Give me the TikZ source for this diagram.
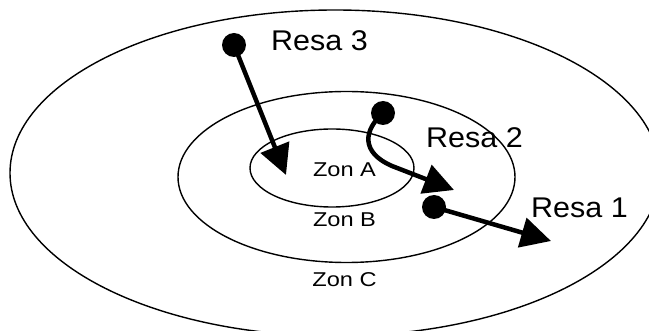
\documentclass[tikz,border=0pt]{standalone}
\usepackage{graphicx}
\usepackage{fontspec}
\setmainfont{Liberation Sans}
\usetikzlibrary{arrows.meta}
\begin{document}
\begin{tikzpicture}[x=1pt,y=-1pt,
  zone/.style={line width=1.4pt},
  dot/.style={circle,fill=black,inner sep=0pt,minimum size=24pt},
  arr/.style={line width=4.5pt,-{Triangle[length=30pt,width=30pt]}},
  zlabel/.style={inner sep=0pt,anchor=base,font=\fontsize{20}{24}\selectfont},
  rlabel/.style={inner sep=0pt,anchor=base west,font=\fontsize{28.5}{34}\selectfont}]
\useasboundingbox (0,0) rectangle (649,331);
\clip (0,0) rectangle (649,331);
% zones
\draw[zone] (335,173) ellipse [x radius=325, y radius=163];
\draw[zone] (346.5,177) ellipse [x radius=168.5, y radius=85.5];
\draw[zone] (332,168) ellipse [x radius=82, y radius=39];
% zone labels
\node[zlabel] (za) at (344.5,177) {\scalebox{1.18}[1]{Zon A}};
\node[zlabel] (zb) at (344.5,227) {\scalebox{1.18}[1]{Zon B}};
\node[zlabel] (zc) at (344.5,287) {\scalebox{1.18}[1]{Zon C}};
% journey labels
\node[rlabel] (r3) at (271,51) {\scalebox{1.07}[1]{Resa 3}};
\node[rlabel] (r2) at (426,148) {\scalebox{1.07}[1]{Resa 2}};
\node[rlabel] (r1) at (531,218) {\scalebox{1.07}[1]{Resa 1}};
% start dots
\node[dot] (d3) at (234,45) {};
\node[dot] (d2) at (383,113) {};
\node[dot] (d1) at (434,207) {};
% arrow ends
\coordinate (t3) at (286,175);
\coordinate (t2) at (454,190);
\coordinate (t1) at (551,241);
% journeys
\draw[arr] (d3.center) -- (t3);
\draw[arr] (d2.center) .. controls (364,130) and (360,152) .. (392,166) -- (t2);
\draw[arr] (d1.center) -- (t1);
\end{tikzpicture}
\end{document}
